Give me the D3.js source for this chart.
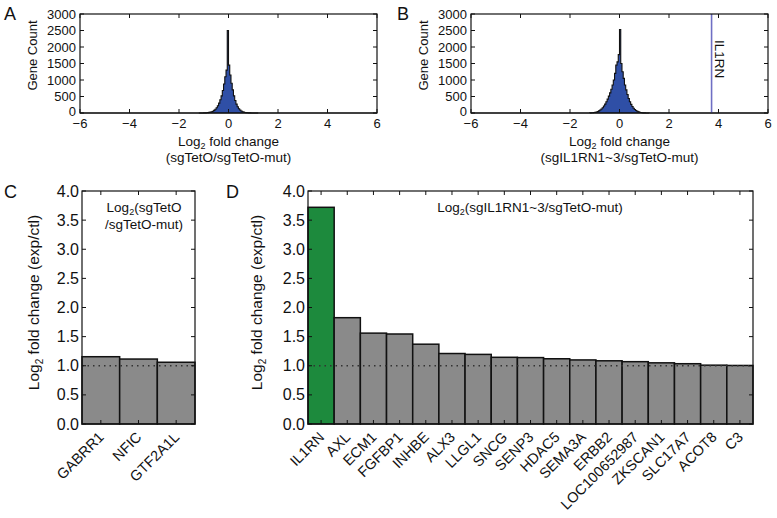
<!DOCTYPE html>
<html><head><meta charset="utf-8">
<script src="https://cdn.jsdelivr.net/npm/d3@7"></script>
<style>body{margin:0;background:#fff}svg{display:block}text{font-family:"Liberation Sans",Arial,sans-serif;fill:#111}</style>
</head><body><svg id="c" width="777" height="518"></svg>
<script>
// ---------- data ----------
const binStarts = [-1.2,-1.15,-1.1,-1.05,-1.0,-0.95,-0.9,-0.85,-0.8,-0.75,-0.7,-0.65,-0.6,-0.55,-0.5,-0.45,-0.4,-0.35,-0.3,-0.25,-0.2,-0.15,-0.1,-0.05,0.0,0.05,0.1,0.15,0.2,0.25,0.3,0.35,0.4,0.45,0.5,0.55,0.6,0.65,0.7,0.75,0.8,0.85,0.9,0.95,1.0,1.05,1.1,1.15];
const binWidth = 0.05;
const countsA = [0,1,1,2,3,5,8,12,18,26,38,55,80,115,160,220,300,400,520,680,880,1100,1300,2500,1450,1150,900,700,520,380,270,190,130,90,60,40,26,17,11,7,4,3,2,1,1,0,0,0];
const countsB = [3,6,9,14,20,30,45,65,90,120,160,210,270,340,420,510,610,720,850,1000,1200,1450,1550,1770,2530,1500,1250,1050,850,700,560,440,340,260,195,145,105,75,52,35,23,14,8,5,3,2,1,1];
const histXTicks = [-6,-4,-2,0,2,4,6];
const histYTicks = [0,500,1000,1500,2000,2500,3000];
const il1rnLFC = 3.72;

const genesC = ["GABRR1","NFIC","GTF2A1L"];
const valuesC = [1.155,1.115,1.06];
const genesD = ["IL1RN","AXL","ECM1","FGFBP1","INHBE","ALX3","LLGL1","SNCG","SENP3","HDAC5","SEMA3A","ERBB2","LOC100652987","ZKSCAN1","SLC17A7","ACOT8","C3"];
const valuesD = [3.72,1.825,1.56,1.545,1.37,1.21,1.195,1.145,1.14,1.12,1.10,1.085,1.07,1.05,1.035,1.01,1.005];
const barYTicks = [0,0.5,1.0,1.5,2.0,2.5,3.0,3.5,4.0];
const threshold = 1.0;

const svg = d3.select("#c");
const TL = 4;

function frame(g, w, h){
  g.append("rect").attr("width",w).attr("height",h).attr("fill","none").attr("stroke","#111").attr("stroke-width",1.2);
}

function hist(ox, oy, counts, label2, showIL){
  const w = 297, h = 99;
  const g = svg.append("g").attr("transform",`translate(${ox},${oy})`);
  const x = d3.scaleLinear().domain([-6,6]).range([0,w]);
  const y = d3.scaleLinear().domain([0,3000]).range([h,0]);
  const pts = binStarts.map((b,i)=>[b,counts[i]]);
  pts.push([binStarts[binStarts.length-1]+binWidth, 0]);
  const pts0 = [[binStarts[0],0]].concat(pts);
  g.append("path").datum(pts0)
    .attr("d", d3.area().x(d=>x(d[0])).y0(y(0)).y1(d=>y(d[1])).curve(d3.curveStepAfter))
    .attr("fill","#2f4fa6");
  g.append("path").datum(pts0)
    .attr("d", d3.line().x(d=>x(d[0])).y(d=>y(d[1])).curve(d3.curveStepAfter))
    .attr("fill","none").attr("stroke","#111").attr("stroke-width",1.1);
  g.append("line").attr("x1",0).attr("x2",w).attr("y1",h).attr("y2",h).attr("stroke","#111");
  if(showIL){
    g.append("line").attr("x1",x(il1rnLFC)).attr("x2",x(il1rnLFC)).attr("y1",0).attr("y2",h)
      .attr("stroke","#6f6fc4").attr("stroke-width",1.6);
    g.append("text").attr("transform",`translate(${x(il1rnLFC)+3},${26}) rotate(90)`)
      .attr("font-size",13.5).text("IL1RN");
  }
  frame(g,w,h);
  histXTicks.forEach(t=>{
    g.append("line").attr("x1",x(t)).attr("x2",x(t)).attr("y1",h).attr("y2",h-TL).attr("stroke","#111");
    g.append("line").attr("x1",x(t)).attr("x2",x(t)).attr("y1",0).attr("y2",TL).attr("stroke","#111");
    g.append("text").attr("x",x(t)).attr("y",h+15).attr("text-anchor","middle").attr("font-size",13)
      .text(t<0?"\u2212"+Math.abs(t):t);
  });
  histYTicks.forEach(t=>{
    g.append("line").attr("x1",0).attr("x2",TL).attr("y1",y(t)).attr("y2",y(t)).attr("stroke","#111");
    g.append("line").attr("x1",w).attr("x2",w-TL).attr("y1",y(t)).attr("y2",y(t)).attr("stroke","#111");
    g.append("text").attr("x",-4).attr("y",y(t)+(t===0?3:4.5)).attr("text-anchor","end").attr("font-size",13).text(t);
  });
  g.append("text").attr("transform",`translate(-43,${h/2-8}) rotate(-90)`).attr("text-anchor","middle")
    .attr("font-size",13).text("Gene Count");
  const t1 = g.append("text").attr("x",w/2).attr("y",h+33).attr("text-anchor","middle").attr("font-size",13.5);
  t1.append("tspan").text("Log");
  t1.append("tspan").attr("font-size",9).attr("dy",3).text("2");
  t1.append("tspan").attr("dy",-3).text(" fold change");
  g.append("text").attr("x",w/2).attr("y",h+49).attr("text-anchor","middle").attr("font-size",13.5).text(label2);
}

function bars(ox, oy, w, genes, values, colorFirst, inner, labelX, innerX){
  const h = 233;
  const g = svg.append("g").attr("transform",`translate(${ox},${oy})`);
  const x = d3.scaleBand().domain(genes).range([0,w]).padding(0);
  const y = d3.scaleLinear().domain([0,4]).range([h,0]);
  g.selectAll("rect.bar").data(genes).enter().append("rect").attr("class","bar")
    .attr("x",d=>x(d)).attr("width",x.bandwidth())
    .attr("y",(d,i)=>y(values[i])).attr("height",(d,i)=>h-y(values[i]))
    .attr("fill",(d,i)=>(colorFirst&&i===0)?"#1d8a3d":"#8a8a8a")
    .attr("stroke","#111").attr("stroke-width",1.5);
  g.append("line").attr("x1",0).attr("x2",w).attr("y1",y(threshold)).attr("y2",y(threshold))
    .attr("stroke","#333").attr("stroke-width",1.3).attr("stroke-dasharray","1.5,4");
  frame(g,w,h);
  genes.forEach(d=>{
    const cx = x(d)+x.bandwidth()/2;
    g.append("line").attr("x1",cx).attr("x2",cx).attr("y1",h).attr("y2",h-TL).attr("stroke","#111");
    g.append("line").attr("x1",cx).attr("x2",cx).attr("y1",0).attr("y2",TL).attr("stroke","#111");
    g.append("text").attr("transform",`translate(${cx+4},${h+14}) rotate(-45)`)
      .attr("text-anchor","end").attr("font-size",14.5).text(d);
  });
  barYTicks.forEach(t=>{
    g.append("line").attr("x1",0).attr("x2",TL).attr("y1",y(t)).attr("y2",y(t)).attr("stroke","#111");
    g.append("line").attr("x1",w).attr("x2",w-TL).attr("y1",y(t)).attr("y2",y(t)).attr("stroke","#111");
    g.append("text").attr("x",-3).attr("y",y(t)+5.5).attr("text-anchor","end").attr("font-size",16).text(t.toFixed(1));
  });
  const yl = g.append("text").attr("transform",`translate(${labelX},${h/2-5}) rotate(-90)`).attr("text-anchor","middle").attr("font-size",15.5);
  yl.append("tspan").text("Log");
  yl.append("tspan").attr("font-size",10).attr("dy",4).text("2");
  yl.append("tspan").attr("dy",-4).text(" fold change (exp/ctl)");
  inner.forEach((ln,i)=>{
    const t = g.append("text").attr("x",innerX).attr("y",21+i*17).attr("text-anchor","middle").attr("font-size",13.5);
    if(i===0){
      t.append("tspan").text("Log");
      t.append("tspan").attr("font-size",9).attr("dy",3).text("2");
      t.append("tspan").attr("dy",-3).text(ln);
    } else t.text(ln);
  });
}

hist(80,14,countsA,"(sgTetO/sgTetO-mut)",false);
hist(471,14,countsB,"(sgIL1RN1~3/sgTetO-mut)",true);
bars(82,191,113,genesC,valuesC,false,["(sgTetO","/sgTetO-mut)"],-43,62);
bars(308,191,445,genesD,valuesD,true,["(sgIL1RN1~3/sgTetO-mut)"],-46,222);

[["A",4,20],["B",397,20],["C",4,198],["D",226,198]].forEach(p=>{
  svg.append("text").attr("x",p[1]).attr("y",p[2]).attr("font-size",18).text(p[0]);
});
</script></body></html>
